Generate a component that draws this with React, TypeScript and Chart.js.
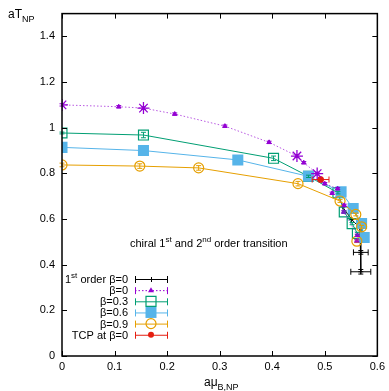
import React, { useEffect, useRef } from 'react';
import { Chart, registerables } from 'chart.js';

Chart.register(...registerables);

const FONT = '"Liberation Sans", Arial, Helvetica, sans-serif';

// ---- axis ticks ----
const X_TICKS = [0, 0.1, 0.2, 0.3, 0.4, 0.5, 0.6];
const Y_TICKS = [0, 0.2, 0.4, 0.6, 0.8, 1, 1.2, 1.4];

// ---- 1st order beta=0 (black) ----
const blackX = [0.534, 0.551, 0.567, 0.5685, 0.5685];
const blackY = [0.653, 0.598, 0.561, 0.454, 0.369];
const blackXErr = [0, 0, 0, 0.014, 0.019];
const blackYErr = [0, 0, 0, 0.008, 0.01];

// ---- beta=0 (purple, dotted) ----
const purpleX = [0, 0.108, 0.155, 0.2145, 0.31, 0.394, 0.447, 0.46, 0.4855, 0.5, 0.5245, 0.514, 0.537, 0.536, 0.562, 0.561];
const purpleY = [1.1, 1.092, 1.086, 1.06, 1.007, 0.936, 0.876, 0.847, 0.799, 0.755, 0.733, 0.713, 0.66, 0.631, 0.529, 0.504];
const purpleYErr = [0.005, 0.005, 0.006, 0.005, 0.005, 0.005, 0.006, 0.005, 0.006, 0.005, 0.005, 0.005, 0.005, 0.005, 0.005, 0.005];
const purpleBig = [true, false, true, false, false, false, true, false, true, false, false, false, false, false, false, false];

// ---- beta=0.3 (green) ----
const greenX = [0, 0.155, 0.4025, 0.469, 0.525, 0.537, 0.552, 0.562];
const greenY = [0.977, 0.968, 0.866, 0.787, 0.715, 0.631, 0.58, 0.537];
const greenYErr = [0.004, 0.012, 0.01, 0.005, 0.005, 0.005, 0.005, 0.005];

// ---- beta=0.6 (blue) ----
const blueX = [0, 0.155, 0.3345, 0.469, 0.531, 0.554, 0.57, 0.575];
const blueY = [0.914, 0.9, 0.859, 0.787, 0.719, 0.646, 0.58, 0.519];

// ---- beta=0.9 (orange) ----
const orangeX = [0, 0.148, 0.26, 0.449, 0.529, 0.559, 0.57, 0.561];
const orangeY = [0.837, 0.832, 0.824, 0.755, 0.679, 0.62, 0.566, 0.503];
const orangeYErr = [0.008, 0.01, 0.01, 0.01, 0.006, 0.006, 0.006, 0.006];

// ---- TCP at beta=0 (red) ----
const redX = [0.492];
const redY = [0.773];
const redXErr = [0.016];
const redYErr = [0.008];

const COLORS = {
  black: '#000000',
  purple: '#9400d3',
  purpleLine: 'rgba(148,0,211,0.65)',
  green: '#009e73',
  blue: '#56b4e9',
  orange: '#e69f00',
  red: '#e51e10',
};

const LEGEND_LABELS = [
  [{ t: '1' }, { t: 'st', s: 'sup' }, { t: ' order β=0' }],
  [{ t: 'β=0' }],
  [{ t: 'β=0.3' }],
  [{ t: 'β=0.6' }],
  [{ t: 'β=0.9' }],
  [{ t: 'TCP at β=0' }],
];

const ANNOTATION = [
  { t: 'chiral 1' }, { t: 'st', s: 'sup' }, { t: ' and 2' }, { t: 'nd', s: 'sup' }, { t: ' order transition' },
];

type Part = { t: string; s?: string };

function zip(xs: number[], ys: number[]) {
  return xs.map((x, i) => ({ x, y: ys[i] }));
}

function partFont(size: number, p: Part) {
  const s = p.s ? Math.round(size * 0.75) : size;
  return `${s}px ${FONT}`;
}

function richWidth(ctx: CanvasRenderingContext2D, parts: Part[], size: number) {
  let w = 0;
  for (const p of parts) {
    ctx.font = partFont(size, p);
    w += ctx.measureText(p.t).width;
  }
  return w;
}

function drawRich(ctx: CanvasRenderingContext2D, parts: Part[], x: number, y: number, size: number, align: string) {
  const w = richWidth(ctx, parts, size);
  let cx = align === 'right' ? x - w : align === 'center' ? x - w / 2 : x;
  ctx.textAlign = 'left';
  ctx.textBaseline = 'alphabetic';
  for (const p of parts) {
    ctx.font = partFont(size, p);
    const dy = p.s === 'sup' ? -size * 0.42 : p.s === 'sub' ? size * 0.3 : 0;
    ctx.fillText(p.t, cx, y + dy);
    cx += ctx.measureText(p.t).width;
  }
}

const ERRORS: { [k: number]: { xe?: number[]; ye?: number[]; color: string } } = {
  0: { xe: redXErr, ye: redYErr, color: COLORS.red },
  1: { ye: orangeYErr, color: COLORS.orange },
  3: { ye: greenYErr, color: COLORS.green },
  4: { ye: purpleYErr, color: COLORS.purple },
  5: { xe: blackXErr, ye: blackYErr, color: COLORS.black },
};

const overlayPlugin = {
  id: 'overlay',
  afterDatasetsDraw(chart: any) {
    const ctx: CanvasRenderingContext2D = chart.ctx;
    const xs = chart.scales.x;
    const ys = chart.scales.y;
    ctx.save();
    ctx.lineWidth = 1;
    Object.keys(ERRORS).forEach((k) => {
      const di = Number(k);
      const e = ERRORS[di];
      const data = chart.data.datasets[di].data as { x: number; y: number }[];
      ctx.strokeStyle = e.color;
      data.forEach((pt, i) => {
        const px = xs.getPixelForValue(pt.x);
        const py = ys.getPixelForValue(pt.y);
        ctx.beginPath();
        if (e.xe && e.xe[i]) {
          const x1 = xs.getPixelForValue(pt.x - e.xe[i]);
          const x2 = xs.getPixelForValue(pt.x + e.xe[i]);
          ctx.moveTo(x1, py); ctx.lineTo(x2, py);
          ctx.moveTo(x1, py - 3); ctx.lineTo(x1, py + 3);
          ctx.moveTo(x2, py - 3); ctx.lineTo(x2, py + 3);
        }
        if (e.ye && e.ye[i]) {
          const y1 = ys.getPixelForValue(pt.y - e.ye[i]);
          const y2 = ys.getPixelForValue(pt.y + e.ye[i]);
          ctx.moveTo(px, y1); ctx.lineTo(px, y2);
          ctx.moveTo(px - 2.5, y1); ctx.lineTo(px + 2.5, y1);
          ctx.moveTo(px - 2.5, y2); ctx.lineTo(px + 2.5, y2);
        }
        ctx.stroke();
      });
    });
    ctx.restore();
  },
  afterDraw(chart: any) {
    const ctx: CanvasRenderingContext2D = chart.ctx;
    const a = chart.chartArea;
    const xs = chart.scales.x;
    const ys = chart.scales.y;
    ctx.save();
    // frame
    ctx.strokeStyle = '#000';
    ctx.lineWidth = 1.5;
    ctx.strokeRect(a.left, a.top, a.right - a.left, a.bottom - a.top);
    // inward ticks, mirrored
    ctx.lineWidth = 1;
    ctx.beginPath();
    const T = 5;
    xs.ticks.forEach((t: any) => {
      const px = Math.round(xs.getPixelForValue(t.value)) + 0.5;
      ctx.moveTo(px, a.bottom); ctx.lineTo(px, a.bottom - T);
      ctx.moveTo(px, a.top); ctx.lineTo(px, a.top + T);
    });
    ys.ticks.forEach((t: any) => {
      const py = Math.round(ys.getPixelForValue(t.value)) + 0.5;
      ctx.moveTo(a.left, py); ctx.lineTo(a.left + T, py);
      ctx.moveTo(a.right, py); ctx.lineTo(a.right - T, py);
    });
    ctx.stroke();

    // axis titles
    ctx.fillStyle = '#000';
    drawRich(ctx, [{ t: 'aT' }, { t: 'NP', s: 'sub' }], 8, 18, 12, 'left');
    drawRich(ctx, [{ t: 'aμ' }, { t: 'B,NP', s: 'sub' }], 204, 386, 12, 'left');

    // annotation
    drawRich(ctx, ANNOTATION as Part[], 130, 247, 11, 'left');

    // legend
    const rowY0 = 279;
    const rowDY = 11.15;
    const textRight = 128;
    const lx1 = 135;
    const lx2 = 167;
    const lmx = 151;
    const styles = [
      { c: COLORS.black, dash: [] as number[], mk: 'plus' },
      { c: COLORS.purple, dash: [1.5, 2], mk: 'tri' },
      { c: COLORS.green, dash: [], mk: 'osq' },
      { c: COLORS.blue, dash: [], mk: 'fsq' },
      { c: COLORS.orange, dash: [], mk: 'ocirc' },
      { c: COLORS.red, dash: [], mk: 'dot' },
    ];
    LEGEND_LABELS.forEach((lab, i) => {
      const cy = rowY0 + i * rowDY;
      ctx.fillStyle = '#000';
      drawRich(ctx, lab as Part[], textRight, cy + 4, 11, 'right');
      const s = styles[i];
      ctx.strokeStyle = s.c;
      ctx.fillStyle = s.c;
      ctx.lineWidth = 1;
      ctx.setLineDash(s.dash);
      ctx.beginPath();
      ctx.moveTo(lx1, cy + 0.5); ctx.lineTo(lx2, cy + 0.5);
      ctx.stroke();
      ctx.setLineDash([]);
      ctx.beginPath();
      ctx.moveTo(lx1 + 0.5, cy - 3); ctx.lineTo(lx1 + 0.5, cy + 4);
      ctx.moveTo(lx2 + 0.5, cy - 3); ctx.lineTo(lx2 + 0.5, cy + 4);
      ctx.stroke();
      ctx.beginPath();
      if (s.mk === 'plus') {
        ctx.moveTo(lmx - 2.5, cy + 0.5); ctx.lineTo(lmx + 2.5, cy + 0.5);
        ctx.moveTo(lmx + 0.5, cy - 2); ctx.lineTo(lmx + 0.5, cy + 3);
        ctx.stroke();
      } else if (s.mk === 'tri') {
        ctx.moveTo(lmx, cy - 3); ctx.lineTo(lmx + 3, cy + 2); ctx.lineTo(lmx - 3, cy + 2); ctx.closePath();
        ctx.fill();
      } else if (s.mk === 'osq') {
        ctx.lineWidth = 1.2;
        ctx.rect(lmx - 5, cy - 5, 10, 10);
        ctx.stroke();
      } else if (s.mk === 'fsq') {
        ctx.rect(lmx - 5.5, cy - 5.5, 11, 11);
        ctx.fill();
      } else if (s.mk === 'ocirc') {
        ctx.lineWidth = 1.2;
        ctx.arc(lmx, cy, 5, 0, Math.PI * 2);
        ctx.stroke();
      } else if (s.mk === 'dot') {
        ctx.arc(lmx, cy, 3, 0, Math.PI * 2);
        ctx.fill();
      }
    });
    ctx.restore();
  },
};

export default function App() {
  const ref = useRef<HTMLCanvasElement | null>(null);

  useEffect(() => {
    if (!ref.current) return;
    const chart = new Chart(ref.current, {
      type: 'scatter',
      data: {
        datasets: [
          {
            label: 'TCP at β=0',
            data: zip(redX, redY),
            showLine: false,
            pointStyle: 'circle',
            pointRadius: 3,
            backgroundColor: COLORS.red,
            borderColor: COLORS.red,
            borderWidth: 1,
            order: 1,
          },
          {
            label: 'β=0.9',
            data: zip(orangeX, orangeY),
            showLine: true,
            borderColor: COLORS.orange,
            borderWidth: 1,
            pointStyle: 'circle',
            pointRadius: 5,
            pointBorderWidth: 1.2,
            pointBackgroundColor: 'rgba(0,0,0,0)',
            pointBorderColor: COLORS.orange,
            order: 2,
          },
          {
            label: 'β=0.6',
            data: zip(blueX, blueY),
            showLine: true,
            borderColor: COLORS.blue,
            borderWidth: 1,
            pointStyle: 'rect',
            pointRadius: 7.8,
            pointBorderWidth: 0,
            pointBackgroundColor: COLORS.blue,
            pointBorderColor: COLORS.blue,
            order: 3,
          },
          {
            label: 'β=0.3',
            data: zip(greenX, greenY),
            showLine: true,
            borderColor: COLORS.green,
            borderWidth: 1,
            pointStyle: 'rect',
            pointRadius: 7,
            pointBorderWidth: 1.2,
            pointBackgroundColor: 'rgba(0,0,0,0)',
            pointBorderColor: COLORS.green,
            order: 4,
          },
          {
            label: 'β=0',
            data: zip(purpleX, purpleY),
            showLine: true,
            borderColor: COLORS.purpleLine,
            borderDash: [1.5, 2],
            borderWidth: 1,
            pointStyle: purpleBig.map((b) => (b ? 'star' : 'triangle')),
            pointRadius: purpleBig.map((b) => (b ? 6 : 2.5)),
            pointBorderWidth: purpleBig.map((b) => (b ? 1.3 : 1)),
            pointBackgroundColor: COLORS.purple,
            pointBorderColor: COLORS.purple,
            order: 0,
          } as any,
          {
            label: '1st order β=0',
            data: zip(blackX, blackY),
            showLine: true,
            borderColor: COLORS.black,
            borderWidth: 1,
            pointStyle: 'cross',
            pointRadius: 2.5,
            pointBorderWidth: 1,
            pointBorderColor: COLORS.black,
            order: 6,
          },
        ],
      },
      options: {
        animation: false,
        responsive: false,
        layout: { padding: { left: 0, right: 9, top: 13, bottom: 0 } },
        plugins: { legend: { display: false }, tooltip: { enabled: false } },
        scales: {
          x: {
            type: 'linear',
            min: 0,
            max: 0.6,
            grid: { display: false, drawTicks: false },
            border: { display: false },
            afterBuildTicks: (s: any) => { s.ticks = X_TICKS.map((v) => ({ value: v })); },
            afterFit: (s: any) => { s.height = 35; },
            ticks: {
              padding: 4,
              color: '#000',
              font: { family: FONT, size: 11 },
              maxRotation: 0,
              callback: (v: any) => String(Number(Number(v).toFixed(1))),
            },
          },
          y: {
            type: 'linear',
            min: 0,
            max: 1.5,
            grid: { display: false, drawTicks: false },
            border: { display: false },
            afterBuildTicks: (s: any) => { s.ticks = Y_TICKS.map((v) => ({ value: v })); },
            afterFit: (s: any) => { s.width = 62; },
            ticks: {
              padding: 7,
              color: '#000',
              font: { family: FONT, size: 11 },
              callback: (v: any) => String(Number(Number(v).toFixed(1))),
            },
          },
        },
      },
      plugins: [overlayPlugin],
    } as any);
    return () => chart.destroy();
  }, []);

  return (
    <div style={{ position: 'fixed', left: 0, top: 0, width: 389, height: 391, background: '#fff' }}>
      <canvas ref={ref} width={389} height={391} />
    </div>
  );
}
